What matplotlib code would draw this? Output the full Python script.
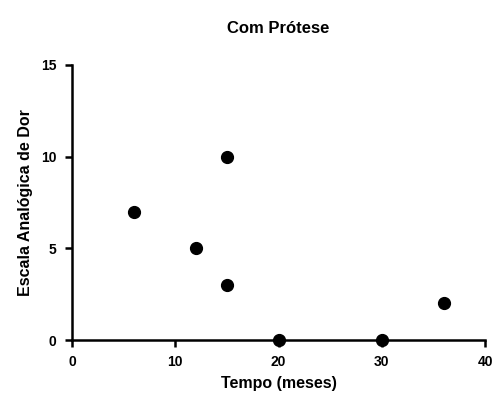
import matplotlib
matplotlib.use("Agg")
import matplotlib.pyplot as plt

plt.rcParams['font.family'] = ['Liberation Sans', 'DejaVu Sans']

tempo = [6, 12, 15, 15, 20, 30, 36]
dor = [7, 5, 10, 3, 0, 0, 2]
xticks = [0, 10, 20, 30, 40]
yticks = [0, 5, 10, 15]

fig = plt.figure(figsize=(4.96, 4.03), dpi=100)
ax = fig.add_axes([72/496, 63/403, 413/496, 275/403])

ax.plot(tempo, dor, linestyle='none', marker='o', markersize=8.5,
        color='black', clip_on=False, zorder=5)

ax.set_xlim(0, 40)
ax.set_ylim(0, 15)
ax.set_xticks(xticks)
ax.set_yticks(yticks)
ax.set_xticklabels([str(v) for v in xticks], fontsize=10, fontweight='bold')
ax.set_yticklabels([str(v) for v in yticks], fontsize=10, fontweight='bold')

for s in ['top', 'right']:
    ax.spines[s].set_visible(False)
for s in ['left', 'bottom']:
    ax.spines[s].set_linewidth(1.8)
ax.tick_params(axis='both', direction='out', length=5, width=1.8, pad=6)

ax.set_xlabel('Tempo (meses)', fontsize=11.5, fontweight='bold', labelpad=5)
ax.set_ylabel('Escala Analógica de Dor', fontsize=11.5, fontweight='bold', labelpad=6)
ax.set_title('Com Prótese', fontsize=12, fontweight='bold', pad=23)

fig.savefig('out.png', dpi=100)
